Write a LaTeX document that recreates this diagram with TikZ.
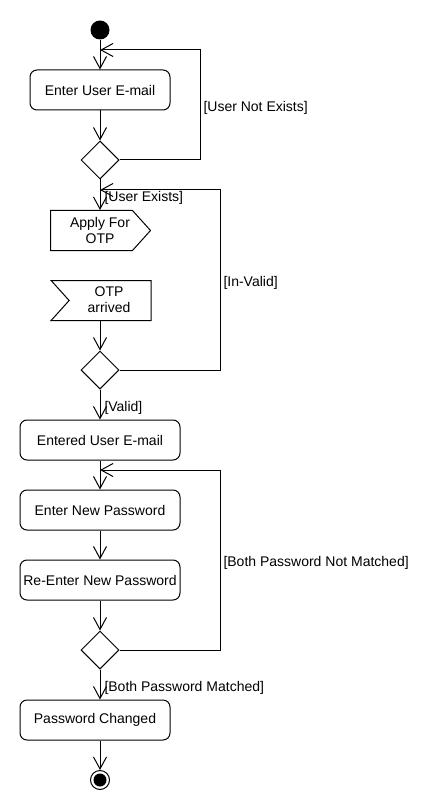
\documentclass[tikz,border=0pt]{standalone}
\usepackage{fontspec}
\setmainfont{Liberation Sans}
\usetikzlibrary{arrows.meta,shapes.geometric,shapes.symbols}

\begin{document}
\begin{tikzpicture}[x=1pt,y=-1pt,line width=1pt,
    font=\fontsize{14}{16}\selectfont,
    act/.style={draw,rounded corners=7pt,minimum height=40pt,inner sep=0pt},
    dec/.style={draw,diamond,minimum width=38pt,minimum height=38pt,inner sep=0pt},
    sig/.style={draw,signal,signal pointer angle=96,minimum width=100pt,minimum height=40pt,inner sep=0pt,anchor=north west},
    flow/.style={-{Straight Barb[length=12pt,width=13pt]}},
    guard/.style={anchor=west,inner sep=0pt}]
\useasboundingbox (0,0) rectangle (440,810);

\node[circle,fill,inner sep=0pt,minimum size=19pt] (start) at (100,30) {};
\node[act,minimum width=140pt] (email) at (100,90) {Enter User E-mail};
\node[dec] (d1) at (100,160) {};
\node[sig,signal to=east,signal from=nowhere] (apply) at (50,210) {};
\node[align=center] (applytxt) at (100,230) {Apply For\\OTP};
\node[sig,signal to=nowhere,signal from=west] (otp) at (50,280) {};
\node[align=center] (otptxt) at (109,300) {OTP\\arrived};
\node[dec] (d2) at (100,370) {};
\node[act,minimum width=160pt] (entered) at (100,440) {Entered User E-mail};
\node[act,minimum width=160pt] (newpw) at (100,510) {Enter New Password};
\node[act,minimum width=160pt] (renew) at (100,580) {Re-Enter New Password};
\node[dec] (d3) at (100,650) {};
\node[act,minimum width=150pt] (changed) at (95,720) {Password Changed};
\node[circle,draw,inner sep=0pt,minimum size=19pt] (stop) at (100,780) {};
\fill (stop.center) circle (6.5pt);

\foreach \a/\b in {start/email,email/d1,d2/entered,entered/newpw,newpw/renew,renew/d3}
    \draw[flow] (\a) -- (\b);
\draw[flow] (d1.south) -- (d1.south |- apply.north);
\draw[flow] (d2.north |- otp.south) -- (d2.north);
\draw[flow] (d3.south) -- (d3.south |- changed.north);
\draw[flow] (stop.north |- changed.south) -- (stop.north);

\coordinate (back1) at (100,50);
\coordinate (back2) at (100,190);
\coordinate (back3) at (100,470);
\draw[flow] (d1.east) -- ++(81,0) |- (back1);
\draw[flow] (d2.east) -- ++(101,0) |- (back2);
\draw[flow] (d3.east) -- ++(101,0) |- (back3);

\node[guard] (g1) at (203,108) {[User Not Exists]};
\node[guard] (g2) at (104,198) {[User Exists]};
\node[guard] (g3) at (223,283) {[In-Valid]};
\node[guard] (g4) at (104,408) {[Valid]};
\node[guard] (g5) at (223,563) {[Both Password Not Matched]};
\node[guard] (g6) at (104,688) {[Both Password Matched]};

\end{tikzpicture}
\end{document}
